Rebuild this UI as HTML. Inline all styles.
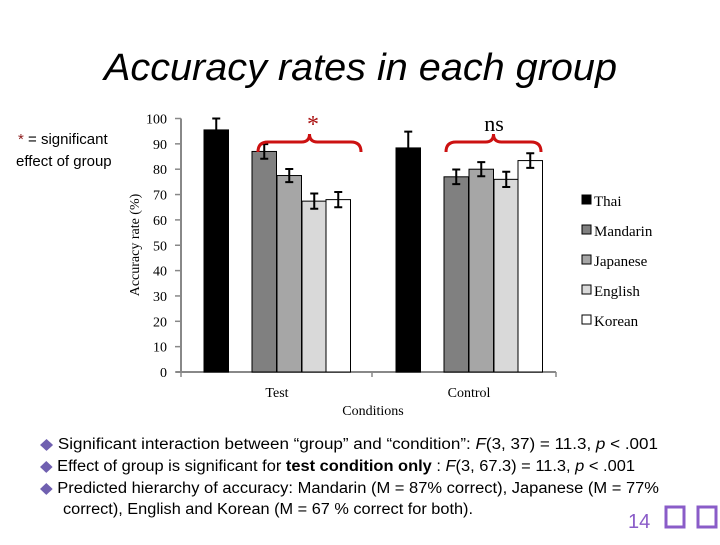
<!DOCTYPE html>
<html><head><meta charset="utf-8"><style>
body{margin:0;width:720px;height:540px;background:#fff;overflow:hidden;font-family:"Liberation Sans",sans-serif;}
</style></head><body>
<svg width="720" height="540" xmlns="http://www.w3.org/2000/svg">
<text x="104" y="80" textLength="513" lengthAdjust="spacingAndGlyphs" font-family="Liberation Sans, sans-serif" font-style="italic" font-size="38" fill="#000">Accuracy rates in each group</text>
<text x="18" y="144" font-size="15" fill="#000"><tspan fill="#8b1a1a">*</tspan> = significant</text>
<text x="16" y="166" font-size="15" fill="#000">effect of group</text>
<g id="chart"></g>
<g font-size="15.5" fill="#000">
<text x="40" y="449" textLength="618" lengthAdjust="spacingAndGlyphs"><tspan fill="#7060b0">◆</tspan>  Significant interaction between “group” and “condition”: <tspan font-style="italic">F</tspan>(3, 37) = 11.3, <tspan font-style="italic">p</tspan> &lt; .001</text>
<text x="40" y="471" textLength="595" lengthAdjust="spacingAndGlyphs"><tspan fill="#7060b0">◆</tspan>  Effect of group is significant for <tspan font-weight="bold">test condition only</tspan> : <tspan font-style="italic">F</tspan>(3, 67.3) = 11.3, <tspan font-style="italic">p</tspan> &lt; .001</text>
<text x="40" y="493" textLength="619" lengthAdjust="spacingAndGlyphs"><tspan fill="#7060b0">◆</tspan>  Predicted hierarchy of accuracy: Mandarin (M = 87% correct), Japanese (M = 77%</text>
<text x="63" y="514" textLength="410" lengthAdjust="spacingAndGlyphs">correct), English and Korean (M = 67 % correct for both).</text>
</g>
<text x="628" y="528" font-size="20" fill="#8a5cc8">14</text>
<rect x="666" y="507" width="18" height="20" fill="none" stroke="#8a5cc8" stroke-width="3"/>
<rect x="698" y="507" width="18" height="20" fill="none" stroke="#8a5cc8" stroke-width="3"/>
</svg>
<script>
const categories=["Test","Control"];
const groups=["Thai","Mandarin","Japanese","English","Korean"];
const colors=["#000000","#808080","#a6a6a6","#d9d9d9","#ffffff"];
const testValues=[95.5,87,77.5,67.4,68];
const testErrors=[4.5,2.9,2.6,3,3];
const controlValues=[88.4,77,80,76,83.4];
const controlErrors=[6.4,2.9,2.8,3,2.9];
const yTicks=[0,10,20,30,40,50,60,70,80,90,100];
const NS="http://www.w3.org/2000/svg";
const g=document.getElementById('chart');
const y0=372,yTop=118.5,xL=181,xR=556;
function yS(v){return y0-(v/100)*(y0-yTop);}
function mk(t,a){const e=document.createElementNS(NS,t);for(const k in a)e.setAttribute(k,a[k]);g.appendChild(e);return e;}
let ax=mk('line',{x1:xL,y1:yTop,x2:xL,y2:y0,stroke:'#888','stroke-width':2});


let xa=mk('line',{x1:xL-5,y1:y0,x2:xR,y2:y0,stroke:'#888','stroke-width':2});


yTicks.forEach(v=>{
 const tk=mk('line',{x1:xL-6,y1:yS(v),x2:xL,y2:yS(v),stroke:'#888','stroke-width':1.5});
 
 
 const t=mk('text',{x:xL-14,y:yS(v)+5,'text-anchor':'end','font-family':'Liberation Serif, serif','font-size':14});
 t.textContent=v;
 
 
});
[xL,372,xR].forEach(x=>{const t=mk('line',{x1:x,y1:y0,x2:x,y2:y0+5,stroke:'#888','stroke-width':1.5});
 
 });
const yt=mk('text',{x:0,y:0,transform:'translate(139,245) rotate(-90)','text-anchor':'middle','font-family':'Liberation Serif, serif','font-size':14});
yt.textContent='Accuracy rate (%)';


const groupStarts=[204,396];
const barW=24.5;
const offs=[0,48,73,98,122];
[testValues,controlValues].forEach((vals,ci)=>{
 const errs=ci===0?testErrors:controlErrors;
 vals.forEach((v,i)=>{
  const x=groupStarts[ci]+offs[i];
  const r=mk('rect',{x:x,y:yS(v),width:barW,height:y0-yS(v),fill:colors[i],stroke:'#000','stroke-width':1});
  
  
  const cx=x+barW/2;
  const e=mk('path',{d:`M${cx} ${yS(v+errs[i])}V${yS(v-errs[i])}M${cx-4} ${yS(v+errs[i])}H${cx+4}M${cx-4} ${yS(v-errs[i])}H${cx+4}`,stroke:'#000','stroke-width':2,fill:'none'});
  
  
 });
 const lt=mk('text',{x:[277,469][ci],y:397,'text-anchor':'middle','font-family':'Liberation Serif, serif','font-size':14});
 lt.textContent=categories[ci];
 
 
});
const xt=mk('text',{x:373,y:415,'text-anchor':'middle','font-family':'Liberation Serif, serif','font-size':14});
xt.textContent='Conditions';


function brace(x1,x2,y){const m=(x1+x2)/2;return `M${x1} ${y+10}Q${x1} ${y} ${x1+10} ${y}H${m-8}Q${m} ${y} ${m} ${y-8}Q${m} ${y} ${m+8} ${y}H${x2-10}Q${x2} ${y} ${x2} ${y+10}`;}
const b1=mk('path',{d:brace(258,361,142),stroke:'#cc1111','stroke-width':3,fill:'none'});


const b2=mk('path',{d:brace(446,541,142),stroke:'#cc1111','stroke-width':3,fill:'none'});


const s1=mk('text',{x:313,y:132,'text-anchor':'middle','font-family':'Liberation Serif, serif','font-size':24,fill:'#aa1111'});
s1.textContent='*';


const s2=mk('text',{x:494,y:131,'text-anchor':'middle','font-family':'Liberation Serif, serif','font-size':22,fill:'#000'});
s2.textContent='ns';


groups.forEach((n,i)=>{
 const y=203+i*30;
 const r=mk('rect',{x:582,y:y-8,width:9,height:9,fill:colors[i],stroke:'#000','stroke-width':1});
 
 
 const t=mk('text',{x:594,y:y+3,'font-family':'Liberation Serif, serif','font-size':15});
 t.textContent=n;
 
 
});
</script>
</body></html>
